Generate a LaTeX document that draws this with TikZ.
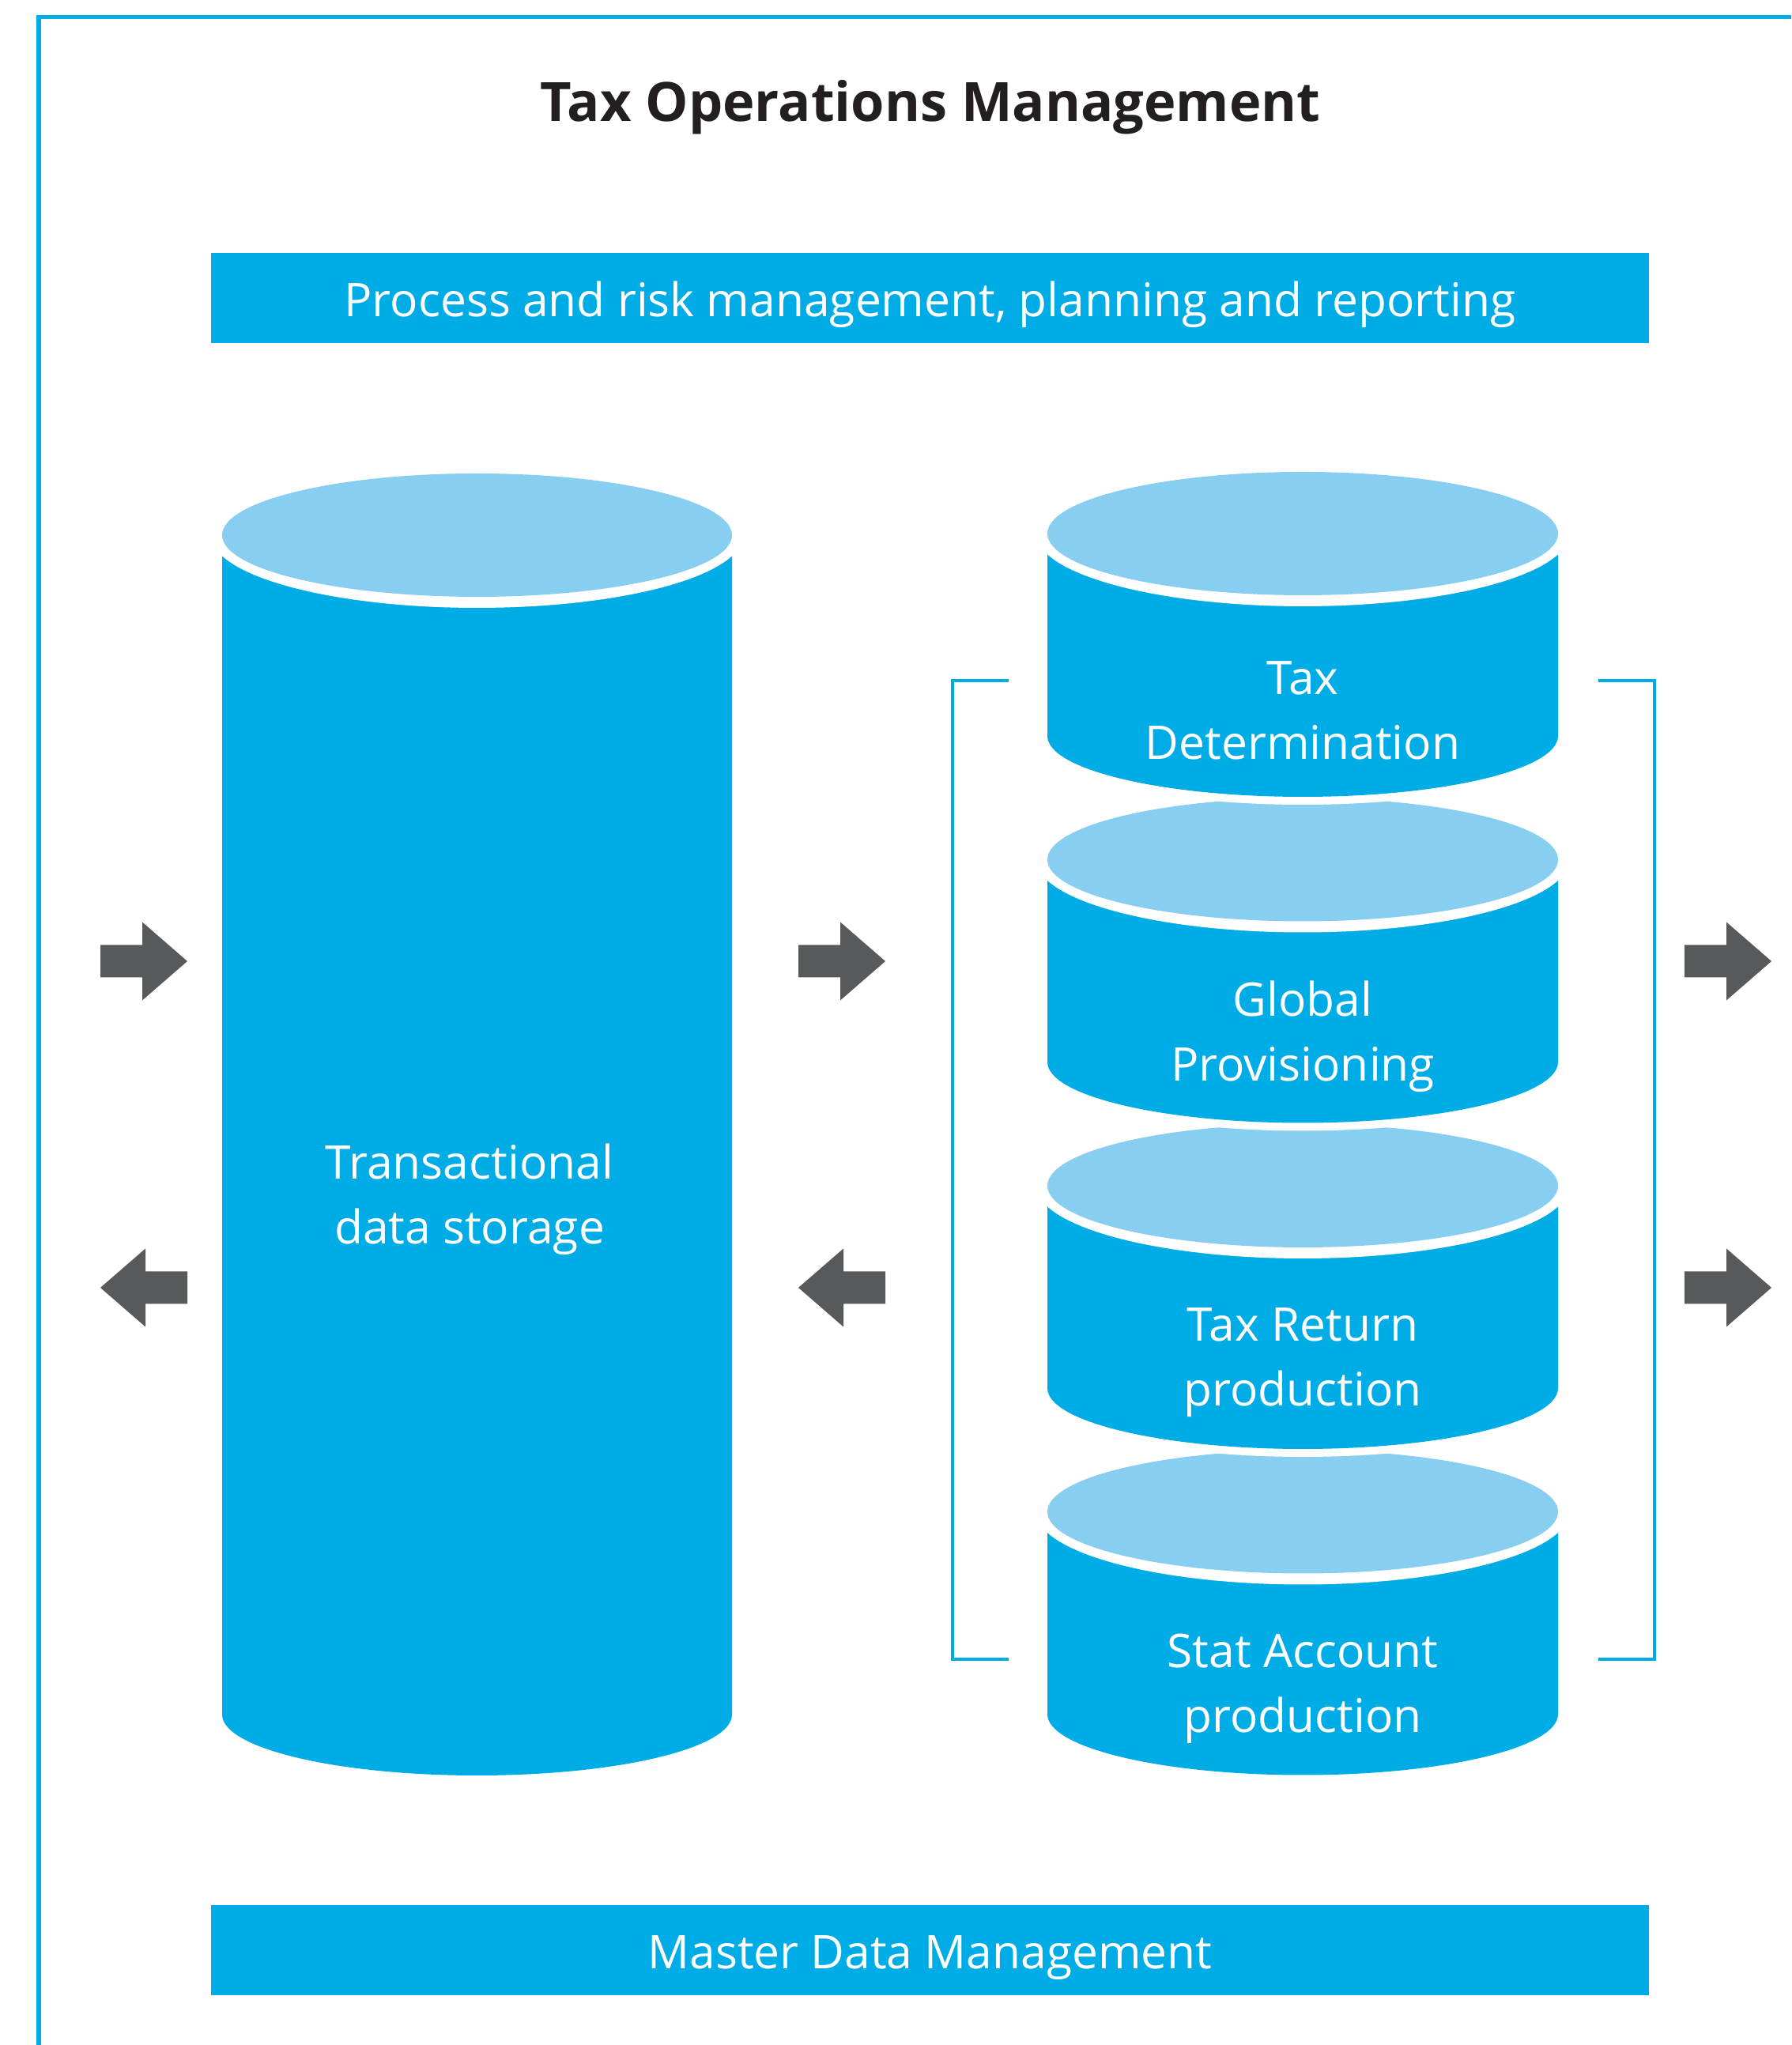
\documentclass[tikz,border=0pt]{standalone}
\usepackage{fontspec}
\setmainfont{Open Sans}
\usepackage{xcolor}
\usepackage{tikz}
\usetikzlibrary{positioning,calc}

\definecolor{taxblue}{HTML}{00ACE6}
\definecolor{taxlight}{HTML}{88CEF1}
\definecolor{taxgray}{HTML}{58595B}
\definecolor{taxblack}{HTML}{231F20}

\tikzset{
    frame/.style={draw=taxblue, line width=1.5pt},
    bracket/.style={draw=taxblue, line width=1.4pt},
    bar/.style={fill=taxblue, text=white, minimum width=18.19cm, minimum height=1.14cm,
        inner sep=0pt, text height=0.5cm, text depth=0.02cm, font=\fontsize{16.7}{20}\selectfont},
    cyltext/.style={text=white, align=center, font=\fontsize{16.7}{23.3}\selectfont},
    blockarrow/.style={fill=taxgray},
}

\begin{document}
\begin{tikzpicture}
            \useasboundingbox (0,0) rectangle (22.66,25.87);
            % draw the frame
            \draw[frame] (0.49,0) -- (0.49,25.655) -- (22.66,25.655);
            % draw the title
            \node[font=\fontsize{19.5}{23}\selectfont\bfseries, text=taxblack, anchor=base]
                (title) at (11.77,24.33) {Tax Operations Management};
            % draw the bars
            \node[bar] (procbar) at (11.765,22.10) {Process and risk management, planning and reporting};
            \node[bar] (masterbar) at (11.765,1.20) {Master Data Management};
            % draw the big cylinder
            \fill[taxblue] (2.81,19.10) -- (2.81,4.18)
                arc[start angle=180, end angle=360, x radius=3.225, y radius=0.77] -- (9.26,19.10) -- cycle;
            \fill[white] (6.035,19.10) ellipse [x radius=3.365, y radius=0.92];
            \fill[taxlight] (6.035,19.10) ellipse [x radius=3.225, y radius=0.78];
            \node[cyltext] (storage) at (5.94,10.70) {Transactional\\data storage};
            % draw the small cylinders, from bottom to top
            \foreach \yc/\txt/\nm in {6.745/{Stat Account\\production}/stat,
                                      10.87/{Tax Return\\production}/taxret,
                                      14.995/{Global\\Provisioning}/prov,
                                      19.12/{Tax\\Determination}/taxdet}
            {
                \begin{scope}[shift={(16.48,\yc)}]
                    \draw[white, line width=0.2cm] (-3.23,0) -- (-3.23,-2.56)
                        arc[start angle=180, end angle=360, x radius=3.23, y radius=0.77] -- (3.23,0);
                    \fill[taxblue] (-3.23,0) -- (-3.23,-2.56)
                        arc[start angle=180, end angle=360, x radius=3.23, y radius=0.77] -- (3.23,0) -- cycle;
                    \fill[white] (0,0) ellipse [x radius=3.37, y radius=0.92];
                    \fill[taxlight] (0,0) ellipse [x radius=3.23, y radius=0.78];
                    \node[cyltext] (\nm) at (0,-2.24) {\txt};
                \end{scope}
            }
            % draw the bracket round the small cylinders
            \draw[bracket] (12.76,17.26) -- (12.05,17.26) -- (12.05,4.88) -- (12.76,4.88);
            \draw[bracket] (20.22,17.26) -- (20.93,17.26) -- (20.93,4.88) -- (20.22,4.88);
            % draw the arrows
            \foreach \x/\y/\dir in {1.27/13.71/1, 10.10/13.71/1, 21.31/13.71/1,
                                    1.27/9.58/-1, 10.10/9.58/-1, 21.31/9.58/1}
            \fill[blockarrow, shift={(\x+0.55,\y)}, xscale=\dir]
                (-0.55,0.205) -- (-0.02,0.205) -- (-0.02,0.495) -- (0.55,0)
                -- (-0.02,-0.495) -- (-0.02,-0.205) -- (-0.55,-0.205) -- cycle;
        \end{tikzpicture}
\end{document}
